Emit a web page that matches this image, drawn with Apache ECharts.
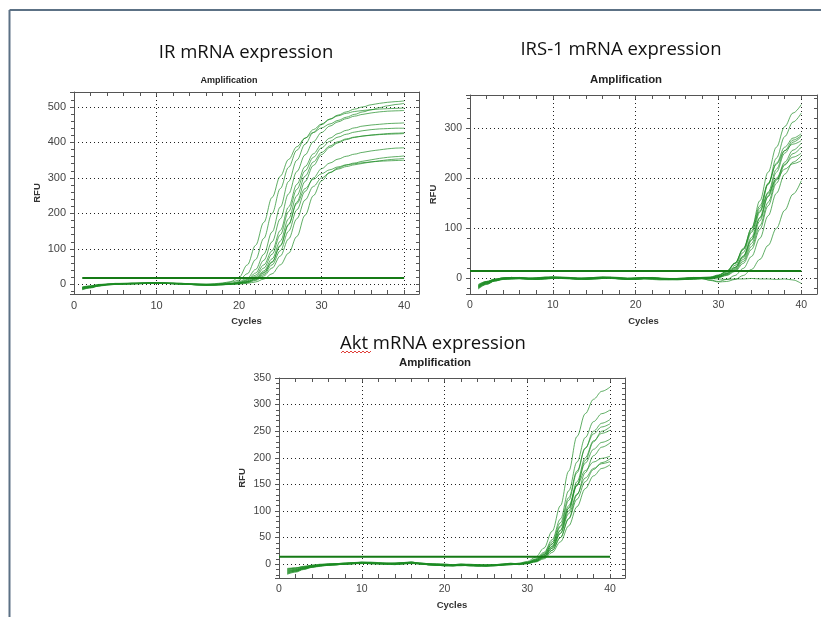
<!DOCTYPE html>
<html>
<head>
<meta charset="utf-8">
<script src="https://cdn.jsdelivr.net/npm/echarts@6/dist/echarts.min.js"></script>
<style>
  html, body { margin: 0; background: #fff; }
  #chart { width: 821px; height: 617px; }
</style>
</head>
<body>
<div id="chart"></div>
<script>
// cycle numbers (x values shared by all curves)
const cycles = [1,2,3,4,5,6,7,8,9,10,11,12,13,14,15,16,17,18,19,20,21,22,23,24,25,26,27,28,29,30,31,32,33,34,35,36,37,38,39,40]

// threshold RFU and the cycle where the threshold line starts
const irThreshold = 18
const irs1Threshold = 15
const aktThreshold = 14
const thresholdStart = [1, 0, 0]
const thresholdEnd = 40

// IR amplification curves (RFU per cycle)
const irCurves = [
  [-10,-6,-2,0,2,2,3,3,4,4,3,3,2,1,1,1,2,4,8,20,55,110,175,245,305,352,388,412,428,441,452,462,471,479,486,492,498,503,507,510],
  [-12,-8,-4,-1,1,2,2,3,3,4,4,3,2,0,-1,-1,1,3,6,12,30,70,130,200,270,330,378,412,436,452,466,477,486,494,500,506,510,513,515,517],
  [-8,-5,-1,1,2,3,3,4,5,5,4,3,2,1,0,-1,-1,1,3,8,18,42,85,148,218,290,350,395,428,450,465,475,482,487,490,492,494,495,496,497],
  [-14,-9,-4,-1,0,1,2,2,3,3,3,2,1,0,-1,-2,-1,0,2,6,14,32,68,120,185,255,318,365,402,428,446,458,467,474,479,483,486,488,489,490],
  [-9,-6,-2,0,1,2,3,3,4,4,4,3,3,2,1,0,0,1,2,5,12,26,55,95,152,218,282,332,368,394,412,425,434,441,446,449,451,453,454,455],
  [-11,-7,-3,0,1,2,2,3,3,4,3,2,1,0,-1,-2,-2,-1,1,4,10,22,46,85,140,205,268,320,358,385,403,415,423,429,433,436,438,439,440,440],
  [-7,-4,0,1,3,3,4,4,5,5,4,4,3,1,0,-1,-1,1,2,4,8,18,38,72,122,185,250,305,345,372,390,402,410,415,418,420,422,423,424,425],
  [-13,-9,-4,-1,0,1,2,2,3,3,3,2,1,0,-2,-2,-2,-1,1,3,7,15,32,62,108,168,232,290,335,366,386,399,408,414,418,421,423,425,426,427],
  [-9,-5,-1,0,1,2,3,3,4,4,4,3,3,2,1,0,0,1,1,3,6,13,28,55,95,150,210,262,300,326,342,353,361,367,372,376,379,382,384,385],
  [-15,-10,-5,-2,0,1,1,2,3,3,3,2,1,0,-1,-2,-1,0,2,4,8,16,34,64,110,170,228,270,296,312,323,331,337,342,347,351,355,358,360,362],
  [-10,-7,-3,0,1,1,2,3,3,3,3,2,1,0,-1,-2,-2,-1,0,2,5,11,24,46,80,128,185,238,276,300,315,325,332,337,341,345,348,351,353,355],
  [-12,-8,-3,0,1,2,2,3,4,4,3,3,2,1,0,-1,-1,0,0,1,3,7,15,30,55,88,135,195,250,292,315,328,336,340,343,345,347,348,349,350]
]

// IRS-1 amplification curves
const irs1Curves = [
  [-16,-8,-3,0,1,0,-1,0,1,2,1,0,-1,0,1,2,1,0,-1,0,1,0,-1,-2,-1,0,1,1,2,6,14,30,58,100,155,212,262,303,330,347],
  [-20,-11,-5,-1,0,1,0,-1,0,1,2,1,0,-1,0,1,2,0,-1,-1,0,1,0,-1,-2,-1,0,1,1,4,10,22,45,82,132,188,240,283,312,330],
  [-13,-6,-2,1,2,1,0,1,2,3,2,1,0,1,2,3,2,1,0,1,2,1,0,-1,0,1,2,2,2,5,12,26,52,92,140,188,230,262,280,289],
  [-18,-10,-4,-1,-1,0,-1,-2,-1,0,1,0,-1,-2,-1,0,1,-1,-2,-1,0,-1,-2,-3,-2,-1,0,0,0,3,8,18,38,70,115,165,212,250,272,283],
  [-15,-7,-2,1,2,1,0,1,2,2,1,1,0,0,1,2,2,1,0,0,1,1,0,-1,-1,0,1,2,3,7,15,31,60,100,145,190,228,255,268,275],
  [-21,-12,-5,-2,-1,0,-1,-2,-1,0,1,0,-1,-2,-1,0,1,0,-1,-2,-1,0,-1,-2,-3,-2,-1,0,0,2,6,14,30,58,98,145,190,226,249,262],
  [-14,-7,-3,0,1,2,1,0,1,2,3,2,1,0,1,2,3,2,0,0,1,2,1,0,-1,0,1,1,1,4,10,22,44,78,120,163,200,228,242,250],
  [-17,-9,-3,0,0,-1,-2,-1,0,1,0,-1,-2,-1,0,1,0,-1,-2,-2,-1,-2,-3,-2,-1,-2,-2,-1,-3,-6,-2,6,20,44,80,125,170,208,232,245],
  [-16,-9,-3,0,2,1,-1,0,1,3,2,0,-1,1,1,2,1,-1,-1,1,1,0,-1,-1,-1,0,1,2,2,6,14,30,58,95,135,170,198,218,229,235],
  [-12,-6,-1,1,2,2,0,1,3,3,2,1,1,1,2,3,2,1,1,1,2,1,0,0,0,1,2,1,-1,2,7,16,34,64,105,152,196,232,256,270],
  [-19,-11,-5,-2,0,1,1,-1,0,1,2,2,0,-1,0,1,2,1,-1,-1,0,1,0,-1,-2,-2,-1,0,-4,-7,-6,-2,6,18,38,66,100,136,168,195],
  [-18,-9,-4,-1,-1,0,0,-2,-1,1,1,0,-1,-1,-1,0,1,0,-2,-1,0,-1,-1,-2,-2,-1,0,1,1,3,9,20,42,76,122,172,218,255,276,285],
  [-15,-7,-2,1,2,1,0,1,2,2,1,1,0,0,1,2,2,1,0,0,1,1,0,-1,-1,0,1,1,0,-1,-2,-1,-1,0,-1,-1,-2,-1,-3,-10]
]

// Akt amplification curves
const aktCurves = [
  [-12,-10,-7,-4,-2,-1,0,1,2,3,2,2,1,1,2,3,1,0,-1,-2,-2,-1,-2,-2,-3,-2,-1,0,2,5,13,30,62,110,175,240,283,310,325,333],
  [-15,-12,-8,-5,-3,-1,0,0,1,2,2,1,1,0,1,2,1,-1,-2,-2,-3,-2,-2,-3,-3,-2,-1,1,1,4,10,22,46,85,138,192,238,268,283,290],
  [-9,-8,-5,-3,-1,0,1,2,3,3,3,2,2,2,3,4,2,1,0,-1,-1,0,-1,-1,-2,-1,0,1,1,3,8,18,38,72,120,172,218,250,265,272],
  [-18,-14,-9,-5,-3,-2,-1,0,1,2,1,1,0,0,1,2,0,-1,-2,-3,-3,-2,-3,-3,-4,-3,-2,-1,0,3,9,20,42,78,125,175,218,245,258,264],
  [-11,-9,-6,-3,-2,0,1,1,2,4,3,2,1,2,2,3,2,0,-1,-1,-2,-1,-1,-2,-2,-2,0,1,1,2,6,14,30,58,100,148,195,230,250,258],
  [-16,-13,-9,-6,-3,-2,-1,0,1,1,2,1,0,0,1,1,1,-1,-2,-3,-3,-2,-3,-3,-2,-2,-1,0,0,2,7,16,34,64,105,150,190,216,229,235],
  [-10,-7,-4,-2,0,0,1,2,2,3,4,3,2,1,3,3,2,1,1,0,-1,0,0,-1,-1,-1,0,2,0,2,5,12,26,50,86,130,172,204,220,228],
  [-17,-13,-8,-5,-2,-2,-1,1,1,2,1,0,0,1,1,2,1,-1,-2,-2,-3,-3,-2,-3,-3,-3,-2,0,1,3,8,18,38,70,110,148,176,192,199,203],
  [-13,-11,-7,-4,-2,-1,0,1,3,3,2,2,1,1,2,4,1,0,-1,-1,-2,-1,-2,-1,-3,-2,-1,1,0,1,5,12,26,50,85,122,155,178,191,198],
  [-14,-11,-7,-4,-3,-1,-1,0,1,2,1,1,1,0,0,2,1,-1,-1,-2,-2,-2,-2,-3,-2,-2,-1,1,0,2,6,14,30,58,95,132,162,180,189,193],
  [-8,-7,-5,-2,-1,1,1,2,3,4,3,2,2,2,3,4,2,1,0,0,-1,0,-1,-1,-2,-1,0,1,-1,1,4,10,22,42,72,108,142,166,180,187],
  [-19,-15,-10,-6,-4,-2,-1,0,1,2,1,1,0,-1,1,2,0,-1,-2,-3,-3,-2,-3,-4,-4,-3,-2,-1,0,2,6,15,33,63,106,155,200,232,246,252]
]

// panel layout
const panels = [
  { title: 'IR mRNA expression', curves: irCurves, threshold: irThreshold,
    grid: { left: 74, top: 92, width: 345, height: 202 },
    yMin: -27, yMax: 542, ySplit: 5, xMax: 41.8, showTopLabel: false,
    titlePos: [246, 53], ampPos: [229, 81], ampSize: 9, labelSize: 11 },
  { title: 'IRS-1 mRNA expression', curves: irs1Curves, threshold: irs1Threshold,
    grid: { left: 470, top: 95, width: 347, height: 199 },
    yMin: -31, yMax: 366, ySplit: 5, xMax: 41.9, showTopLabel: false,
    titlePos: [621, 50], ampPos: [626, 80], ampSize: 11.4, labelSize: 10.5 },
  { title: 'Akt mRNA expression', curves: aktCurves, threshold: aktThreshold,
    grid: { left: 279, top: 378, width: 346, height: 200 },
    yMin: -26, yMax: 350, ySplit: 8, xMax: 41.8, showTopLabel: true,
    titlePos: [433, 344], ampPos: [435, 363], ampSize: 11.4, labelSize: 10.5 }
]

const axisColor = '#555'
const lineColor = 'rgba(28,140,36,0.7)'
const threshColor = '#157a15'
const dotted = [1, 3]

const grids = []
const xAxes = []
const yAxes = []
const series = []
const graphics = []

panels.forEach((p, i) => {
  grids.push(p.grid)

  const xBase = {
    type: 'value', gridIndex: i, min: 0, max: p.xMax, interval: 10,
    axisLine: { show: true, onZero: false, lineStyle: { color: axisColor, width: 1 } },
    axisTick: { show: true, inside: true, length: 4, lineStyle: { color: axisColor } },
    minorTick: { show: true, splitNumber: 5, length: 4, lineStyle: { color: axisColor } }
  }
  xAxes.push({
    ...xBase, position: 'bottom',
    axisLabel: { color: '#444', fontSize: p.labelSize, margin: 6, showMaxLabel: false, fontFamily: 'Liberation Sans' },
    splitLine: { show: true, lineStyle: { color: '#222', type: dotted } },
    name: 'Cycles', nameLocation: 'middle', nameGap: 22,
    nameTextStyle: { fontWeight: 'bold', fontSize: 9.5, color: '#333', fontFamily: 'Liberation Sans' }
  })
  xAxes.push({
    ...xBase, position: 'top',
    axisLabel: { show: false }, splitLine: { show: false }
  })

  const yBase = {
    type: 'value', gridIndex: i, min: p.yMin, max: p.yMax, splitNumber: p.ySplit,
    axisLine: { show: true, onZero: false, lineStyle: { color: axisColor, width: 1 } },
    minorTick: { show: true, splitNumber: 5, length: 3, lineStyle: { color: axisColor } }
  }
  yAxes.push({
    ...yBase, position: 'left',
    axisTick: { show: true, inside: false, length: 4, lineStyle: { color: axisColor } },
    axisLabel: { color: '#444', fontSize: p.labelSize, margin: 8, showMinLabel: false, showMaxLabel: p.showTopLabel, fontFamily: 'Liberation Sans' },
    splitLine: { show: true, lineStyle: { color: '#222', type: dotted } },
    name: 'RFU', nameLocation: 'middle', nameGap: 32,
    nameTextStyle: { fontWeight: 'bold', fontSize: 9.5, color: '#333', fontFamily: 'Liberation Sans' }
  })
  yAxes.push({
    ...yBase, position: 'right',
    axisTick: { show: true, inside: true, length: 3, lineStyle: { color: axisColor } },
    axisLabel: { show: false }, splitLine: { show: false }
  })

  p.curves.forEach(curve => {
    series.push({
      type: 'line', xAxisIndex: 2 * i, yAxisIndex: 2 * i,
      data: cycles.map((c, k) => [c, curve[k]]),
      showSymbol: false, smooth: 0.35, smoothMonotone: 'x',
      lineStyle: { color: lineColor, width: 1 },
      silent: true, animation: false
    })
  })
  series.push({
    type: 'line', xAxisIndex: 2 * i, yAxisIndex: 2 * i,
    data: [[thresholdStart[i], p.threshold], [thresholdEnd, p.threshold]],
    showSymbol: false, lineStyle: { color: threshColor, width: 2 },
    silent: true, animation: false, z: 3
  })

  graphics.push({
    type: 'text', x: p.titlePos[0], y: p.titlePos[1],
    style: { text: p.title, font: '18.5px "Open Sans"', fill: '#111',
      align: 'center', verticalAlign: 'middle', textAlign: 'center', textVerticalAlign: 'middle' }
  })
  graphics.push({
    type: 'text', x: p.ampPos[0], y: p.ampPos[1],
    style: { text: 'Amplification', font: 'bold ' + p.ampSize + 'px "Liberation Sans"', fill: '#222',
      align: 'center', verticalAlign: 'middle', textAlign: 'center', textVerticalAlign: 'middle' }
  })
})

// slide frame
graphics.push({ type: 'line', shape: { x1: 9.5, y1: 10, x2: 821, y2: 10 }, style: { stroke: '#5c7185', lineWidth: 2 } })
graphics.push({ type: 'line', shape: { x1: 9.5, y1: 10, x2: 9.5, y2: 617 }, style: { stroke: '#5c7185', lineWidth: 2 } })

// spell-check squiggle under "Akt"
const squiggle = []
for (let x = 341; x <= 372; x += 2) squiggle.push([x, (x - 341) % 4 === 0 ? 353 : 351])
graphics.push({ type: 'polyline', shape: { points: squiggle }, style: { stroke: '#e0403a', lineWidth: 1, fill: null } })

const chart = echarts.init(document.getElementById('chart'))
chart.setOption({
  backgroundColor: '#fff',
  animation: false,
  grid: grids,
  xAxis: xAxes,
  yAxis: yAxes,
  series: series,
  graphic: graphics
})
</script>
</body>
</html>
